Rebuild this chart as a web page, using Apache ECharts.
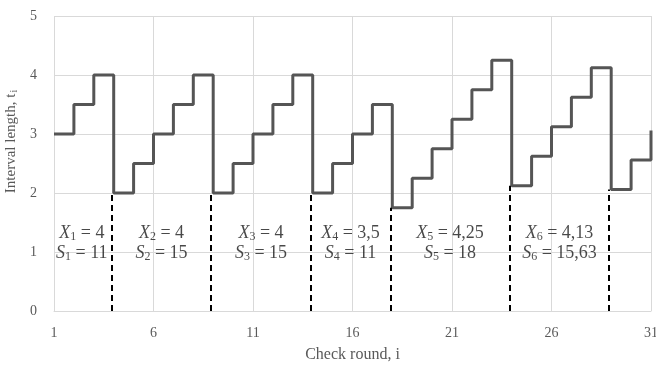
<!DOCTYPE html>
<html>
<head>
<meta charset="utf-8">
<script src="https://cdn.jsdelivr.net/npm/echarts@6/dist/echarts.min.js"></script>
<style>
  html, body { margin: 0; padding: 0; background: #fff; }
  #chart { width: 656px; height: 368px; }
</style>
</head>
<body>
<div id="chart"></div>
<script>
// check rounds and interval lengths t_i
const rounds = [1, 2, 3, 4, 5, 6, 7, 8, 9, 10, 11, 12, 13, 14, 15, 16, 17, 18, 19, 20, 21, 22, 23, 24, 25, 26, 27, 28, 29, 30, 31]
const intervals = [3, 3.5, 4, 2, 2.5, 3, 3.5, 4, 2, 2.5, 3, 3.5, 4, 2, 2.5, 3, 3.5,
  1.75, 2.25, 2.75, 3.25, 3.75, 4.25, 2.125, 2.625, 3.125, 3.625, 4.125, 2.06, 2.56, 3.06]

// cycle boundaries (dashed lines) and the cycle annotations
const cuts = [1, 4, 9, 14, 18, 24, 29]
const xLabels = ['4', '4', '4', '3,5', '4,25', '4,13']
const sLabels = ['11', '15', '15', '11', '18', '15,63']

const xTicks = [1, 6, 11, 16, 21, 26, 31]
const yTicks = [0, 1, 2, 3, 4, 5]

const serif = "'Liberation Serif', 'DejaVu Serif', serif"
const grey = '#595959'
const gridColor = '#d9d9d9'

const chart = echarts.init(document.getElementById('chart'), null, { renderer: 'canvas' })

const stepData = rounds.map((r, i) => [r, intervals[i]])

// dashed verticals from 0 up to the drop of each cycle
const dashData = cuts.slice(1).map(c => {
  const y = intervals[rounds.indexOf(c)]
  return [{ coord: [c - 0.1, 0] }, { coord: [c - 0.1, y] }]
})

const labelData = cuts.slice(0, -1).map((c, i) => [(c + cuts[i + 1]) / 2 - 0.1, 1.15])

const option = {
  backgroundColor: '#fff',
  animation: false,
  grid: { left: 54, right: 5, top: 16, bottom: 57, containLabel: false, outerBoundsMode: 'none' },
  xAxis: {
    type: 'value',
    min: xTicks[0],
    max: xTicks[xTicks.length - 1],
    interval: 5,
    name: 'Check round, i',
    nameLocation: 'middle',
    nameGap: 36,
    nameTextStyle: { fontFamily: serif, fontSize: 16, color: grey },
    axisLine: { show: true, lineStyle: { color: gridColor, width: 1 } },
    axisTick: { show: false },
    axisLabel: { margin: 15, fontFamily: serif, fontSize: 14, color: grey },
    splitLine: { show: true, lineStyle: { color: gridColor, width: 1 } }
  },
  yAxis: {
    type: 'value',
    min: yTicks[0],
    max: yTicks[yTicks.length - 1],
    interval: 1,
    name: '{a|Interval length, t}{s|i}',
    nameLocation: 'middle',
    nameGap: 28,
    nameTextStyle: {
      padding: [0, 0, 0, 44],
      rich: {
        a: { fontFamily: serif, fontSize: 15, color: grey },
        s: { fontFamily: serif, fontSize: 10, color: grey, padding: [6, 0, 0, 1] }
      }
    },
    axisLine: { show: false },
    axisTick: { show: false },
    axisLabel: { margin: 17, fontFamily: serif, fontSize: 14, color: grey },
    splitLine: { show: true, lineStyle: { color: gridColor, width: 1 } }
  },
  series: [
    {
      type: 'line',
      step: 'end',
      data: stepData,
      symbol: 'none',
      lineStyle: { color: '#555', width: 3 },
      z: 3,
      markLine: {
        silent: true,
        symbol: ['none', 'none'],
        label: { show: false },
        lineStyle: { color: '#000', width: 2, type: [6, 4] },
        data: dashData
      }
    },
    {
      type: 'scatter',
      data: labelData,
      symbolSize: 0,
      silent: true,
      label: {
        show: true,
        position: 'inside',
        formatter: p => {
          const n = p.dataIndex + 1
          return '{v|X}{sub|' + n + '}{n| = ' + xLabels[p.dataIndex] + '}\n' +
                 '{v|S}{sub|' + n + '}{n| = ' + sLabels[p.dataIndex] + '}'
        },
        rich: {
          v: { fontFamily: serif, fontStyle: 'italic', fontSize: 18, color: '#1a1a1a', lineHeight: 20 },
          sub: { fontFamily: serif, fontSize: 12, color: '#1a1a1a', padding: [7, 0, 0, 0], lineHeight: 20 },
          n: { fontFamily: serif, fontSize: 18, color: '#1a1a1a', lineHeight: 20 }
        }
      }
    }
  ]
}

chart.setOption(option)
</script>
</body>
</html>
